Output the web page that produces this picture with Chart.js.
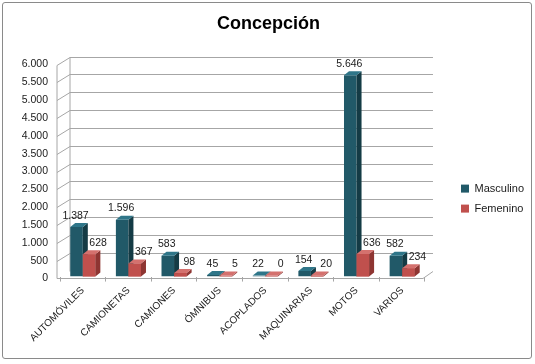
<!DOCTYPE html>
<html>
<head>
<meta charset="utf-8">
<script src="https://cdn.jsdelivr.net/npm/chart.js@4.4.0/dist/chart.umd.min.js"></script>
<style>
  body { margin: 0; background: #fff; }
  #wrap { position: absolute; left: 2px; top: 2px; width: 530px; height: 357px; box-sizing: border-box;
          border: 1px solid #8a8a8a; border-radius: 3px; background: #fff; }
</style>
</head>
<body>
<div id="wrap"><canvas id="myChart"></canvas></div>
<script>
var categorias = ['AUTOMÓVILES', 'CAMIONETAS', 'CAMIONES', 'ÓMNIBUS', 'ACOPLADOS', 'MAQUINARIAS', 'MOTOS', 'VARIOS'];
var masculino = [1387, 1596, 583, 45, 22, 154, 5646, 582];
var femenino = [628, 367, 98, 5, 0, 20, 636, 234];
var yTicks = [0, 500, 1000, 1500, 2000, 2500, 3000, 3500, 4000, 4500, 5000, 5500, 6000];

function miles(v) {
  return String(v).replace(/\B(?=(\d{3})+(?!\d))/g, '.');
}

// colores de las caras para el efecto 3d
var caras = [
  { frente: '#215968', lado: '#143b45', arriba: '#2f7689' },
  { frente: '#c0504d', lado: '#8e3532', arriba: '#d4716e' }
];
var prof = { dx: 5, dy: -4 };

function caja(c, bar, col, conFrente) {
  var p = bar.getProps(['x', 'y', 'base', 'width'], true);
  var l = p.x - p.width / 2, r = p.x + p.width / 2, t = Math.min(p.y, p.base - 1);
  if (conFrente) {
    c.fillStyle = col.frente;
    c.fillRect(l, t, r - l, p.base - t);
  }
  c.fillStyle = col.lado;
  c.beginPath();
  c.moveTo(r, t); c.lineTo(r + prof.dx, t + prof.dy);
  c.lineTo(r + prof.dx, p.base + prof.dy); c.lineTo(r, p.base);
  c.closePath(); c.fill();
  c.fillStyle = col.arriba;
  c.beginPath();
  c.moveTo(l, t); c.lineTo(l + prof.dx, t + prof.dy);
  c.lineTo(r + prof.dx, t + prof.dy); c.lineTo(r, t);
  c.closePath(); c.fill();
}

var pared = {
  id: 'pared',
  beforeDatasetsDraw: function (chart) {
    var c = chart.ctx, a = chart.chartArea, y = chart.scales.y;
    c.save();
    c.strokeStyle = '#a6a6a6';
    c.lineWidth = 1;
    yTicks.forEach(function (v) {
      var py = Math.round(y.getPixelForValue(v)) + 0.5;
      c.beginPath();
      if (v === 0) {
        c.moveTo(a.left - 3, py + 1);
        c.lineTo(a.right - 2, py + 1);
        c.lineTo(a.right + 8, py - 6);
      } else {
        c.moveTo(a.left - 3, py + 2);
        c.lineTo(a.left + 10, py - 6);
        c.lineTo(a.right + 8, py - 6);
      }
      c.stroke();
    });
    var top = Math.round(y.getPixelForValue(6000)) + 0.5;
    var bot = Math.round(y.getPixelForValue(0)) + 0.5;
    c.beginPath();
    c.moveTo(a.left - 3, top + 2);
    c.lineTo(a.left - 3, bot + 1);
    c.moveTo(a.left + 10, top - 6);
    c.lineTo(a.left + 10, bot - 6);
    c.stroke();
    c.restore();
  },
  afterDatasetsDraw: function (chart) {
    var c = chart.ctx;
    c.save();
    chart.getDatasetMeta(0).data.forEach(function (bar) { caja(c, bar, caras[0], false); });
    chart.getDatasetMeta(1).data.forEach(function (bar) { caja(c, bar, caras[1], true); });

    c.font = '10.5px "Liberation Sans", sans-serif';
    c.fillStyle = '#1a1a1a';
    c.textAlign = 'center';
    c.textBaseline = 'bottom';
    chart.data.datasets.forEach(function (ds, i) {
      chart.getDatasetMeta(i).data.forEach(function (bar, j) {
        var p = bar.getProps(['x', 'y', 'base'], true);
        var t = Math.min(p.y, p.base - 1);
        var dx = i === 0 ? -1 : 9;
        c.fillText(miles(ds.data[j]), p.x + dx, t - 6);
      });
    });
    c.restore();
  }
};

var ctx = document.getElementById('myChart').getContext('2d');
var myChart = new Chart(ctx, {
  type: 'bar',
  data: {
    labels: categorias,
    datasets: [{
        label: 'Masculino',
        data: masculino,
        backgroundColor: caras[0].frente
      }, {
        label: 'Femenino',
        data: femenino,
        backgroundColor: caras[1].frente
      }
    ]
  },
  options: {
    responsive: true,
    maintainAspectRatio: false,
    animation: false,
    layout: { padding: { left: 0, right: -3, top: 0, bottom: 11 } },
    categoryPercentage: 0.55,
    barPercentage: 1.0,
    plugins: {
      title: {
        display: true,
        text: 'Concepción',
        color: '#000',
        font: { family: '"Liberation Sans", sans-serif', size: 18, weight: 'bold' },
        padding: { top: 10, bottom: 28 }
      },
      legend: {
        position: 'right',
        title: { display: true, text: ' ', font: { size: 1 }, padding: { top: 0, bottom: 46 } },
        labels: {
          boxWidth: 8,
          boxHeight: 8,
          padding: 9,
          color: '#1a1a1a',
          font: { family: '"Liberation Sans", sans-serif', size: 11 }
        }
      },
      tooltip: { enabled: false }
    },
    scales: {
      x: {
        grid: { display: true, drawOnChartArea: false, offset: true, color: '#a6a6a6', tickLength: 5 },
        border: { display: false },
        ticks: {
          minRotation: 45,
          maxRotation: 45,
          color: '#1a1a1a',
          font: { family: '"Liberation Sans", sans-serif', size: 10 }
        }
      },
      y: {
        min: 0,
        max: 6000,
        afterBuildTicks: function (s) { s.ticks = yTicks.map(function (v) { return { value: v }; }); },
        afterFit: function (s) { s.width = 57; },
        grid: { display: false, drawTicks: false },
        border: { display: false },
        ticks: {
          padding: 12,
          labelOffset: 2,
          color: '#1a1a1a',
          font: { family: '"Liberation Sans", sans-serif', size: 10.5 },
          callback: function (v) { return miles(v); }
        }
      },
      hueco: {
        position: 'right',
        display: true,
        grid: { display: false },
        border: { display: false },
        ticks: { display: false },
        afterFit: function (s) { s.width = 27; }
      }
    }
  },
  plugins: [pared]
});
</script>
</body>
</html>
